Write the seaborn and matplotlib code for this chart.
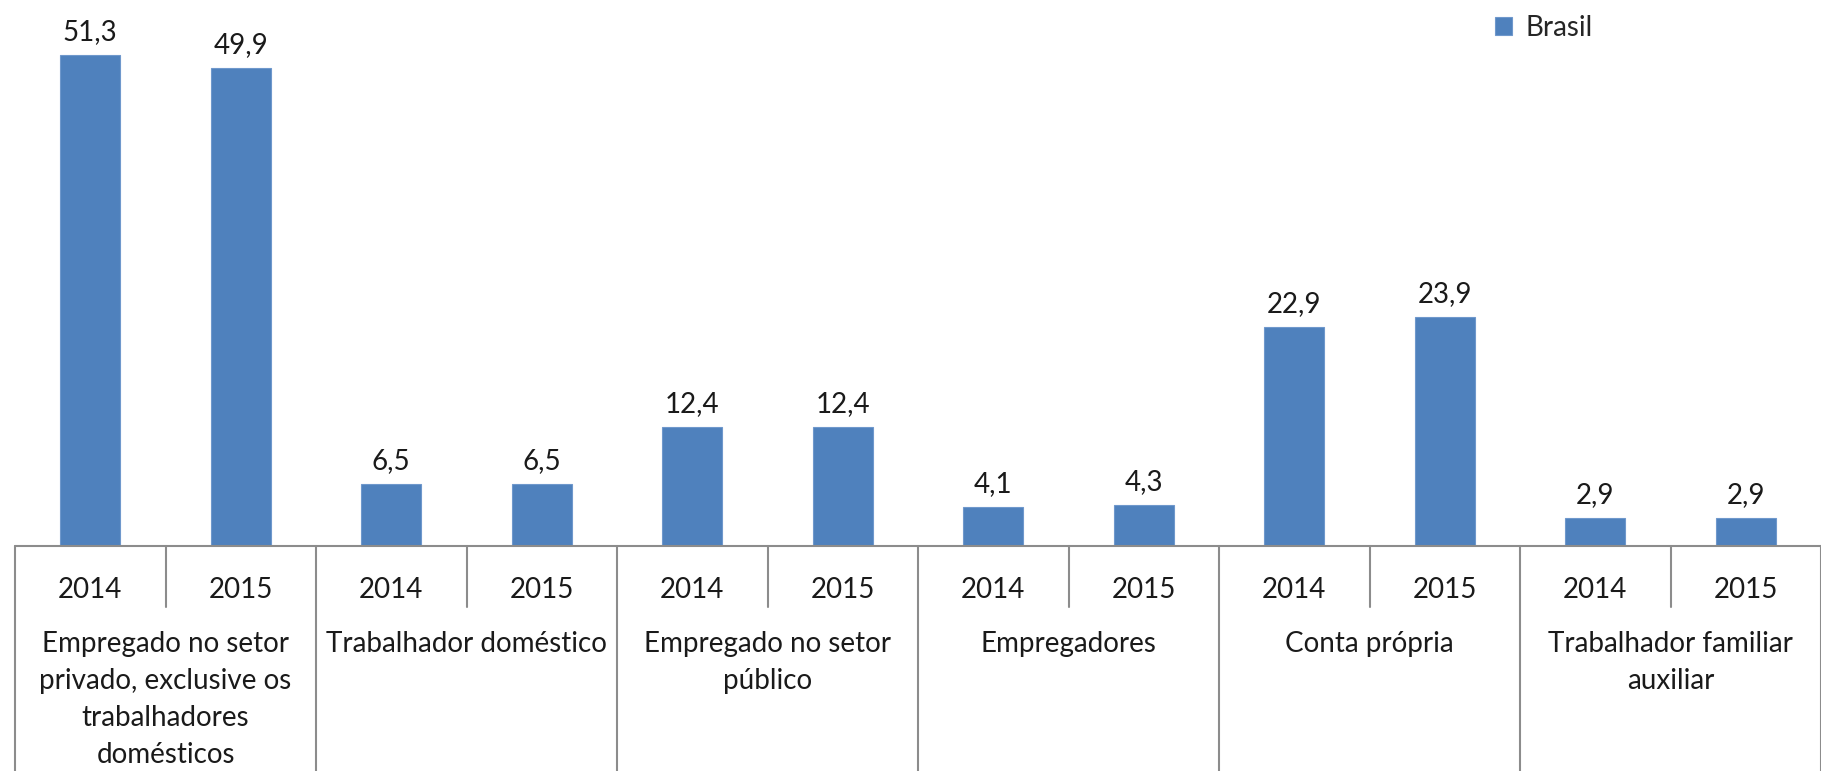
import numpy as np
import pandas as pd
import matplotlib
matplotlib.use("Agg")
from matplotlib import pyplot as plt
from matplotlib.transforms import blended_transform_factory
import seaborn as sns

# dados
categorias = ["Empregado no setor\nprivado, exclusive os\ntrabalhadores\ndomésticos",
              "Trabalhador doméstico",
              "Empregado no setor\npúblico",
              "Empregadores",
              "Conta própria",
              "Trabalhador familiar\nauxiliar"]
anos = ["2014", "2015"]
valores_2014 = [51.3, 6.5, 12.4, 4.1, 22.9, 2.9]
valores_2015 = [49.9, 6.5, 12.4, 4.3, 23.9, 2.9]

linhas = []
for c, v14, v15 in zip(categorias, valores_2014, valores_2015):
    linhas.append({"chave": c + "|2014", "ano": "2014", "valor": v14})
    linhas.append({"chave": c + "|2015", "ano": "2015", "valor": v15})
df = pd.DataFrame(linhas)

sns.set_style("white")
plt.rcParams['font.family'] = ['Lato', 'DejaVu Sans']

W, H = 1821, 771
fig = plt.figure(figsize=(W / 100, H / 100), dpi=100)
base_px = 546
ax = fig.add_axes([15 / W, 1 - base_px / H, (W - 15) / W, base_px / H])

cor = "#4F81BD"
sns.barplot(data=df, x="chave", y="valor", color=cor, width=0.4, saturation=1,
            edgecolor="#6f98cc", linewidth=0.8, ax=ax)

ax.set_ylim(0, 57)
ax.set_xlim(-0.5, len(df) - 0.5)
ax.set_xlabel("")
ax.set_ylabel("")
ax.set_xticks([])
ax.set_yticks([])
for s in ax.spines.values():
    s.set_visible(False)

fs = 20
txt_cor = "#1a1a1a"

# rótulos de valores
for cont in ax.containers:
    ax.bar_label(cont, labels=[f"{v:.1f}".replace(".", ",") for v in cont.datavalues],
                 padding=7, fontsize=fs, color=txt_cor)

# tabela do eixo x
trans = blended_transform_factory(ax.transData, fig.transFigure)
cinza = "#8c8c8c"
y_base = 1 - base_px / H
y_sep_ano = 1 - 607 / H
n = len(df)
ax.plot([-0.5, n - 0.5], [y_base, y_base], transform=trans, color=cinza, lw=1.5, clip_on=False)
for k in range(len(categorias) + 1):
    x = 2 * k - 0.5
    ax.plot([x, x], [y_base, 0], transform=trans, color=cinza, lw=1.5, clip_on=False)
for k in range(len(categorias)):
    x = 2 * k + 0.5
    ax.plot([x, x], [y_base, y_sep_ano], transform=trans, color=cinza, lw=1.5, clip_on=False)

for i, a in enumerate(df["ano"]):
    ax.text(i, 1 - 590 / H, a, transform=trans, ha="center", va="center",
            fontsize=fs, color=txt_cor)
for k, c in enumerate(categorias):
    ax.text(2 * k + 0.5, 1 - 631 / H, c, transform=trans, ha="center", va="top",
            fontsize=fs, color=txt_cor, linespacing=1.52)

barra = ax.containers[0].patches[0]
fig.legend(handles=[barra], labels=["Brasil"],
           loc="upper left", bbox_to_anchor=(1495 / W, 1 - 15 / H),
           frameon=False, fontsize=fs, handlelength=0.6, handleheight=0.6,
           handletextpad=0.5, borderpad=0, borderaxespad=0)

fig.savefig("out.png", dpi=100)
